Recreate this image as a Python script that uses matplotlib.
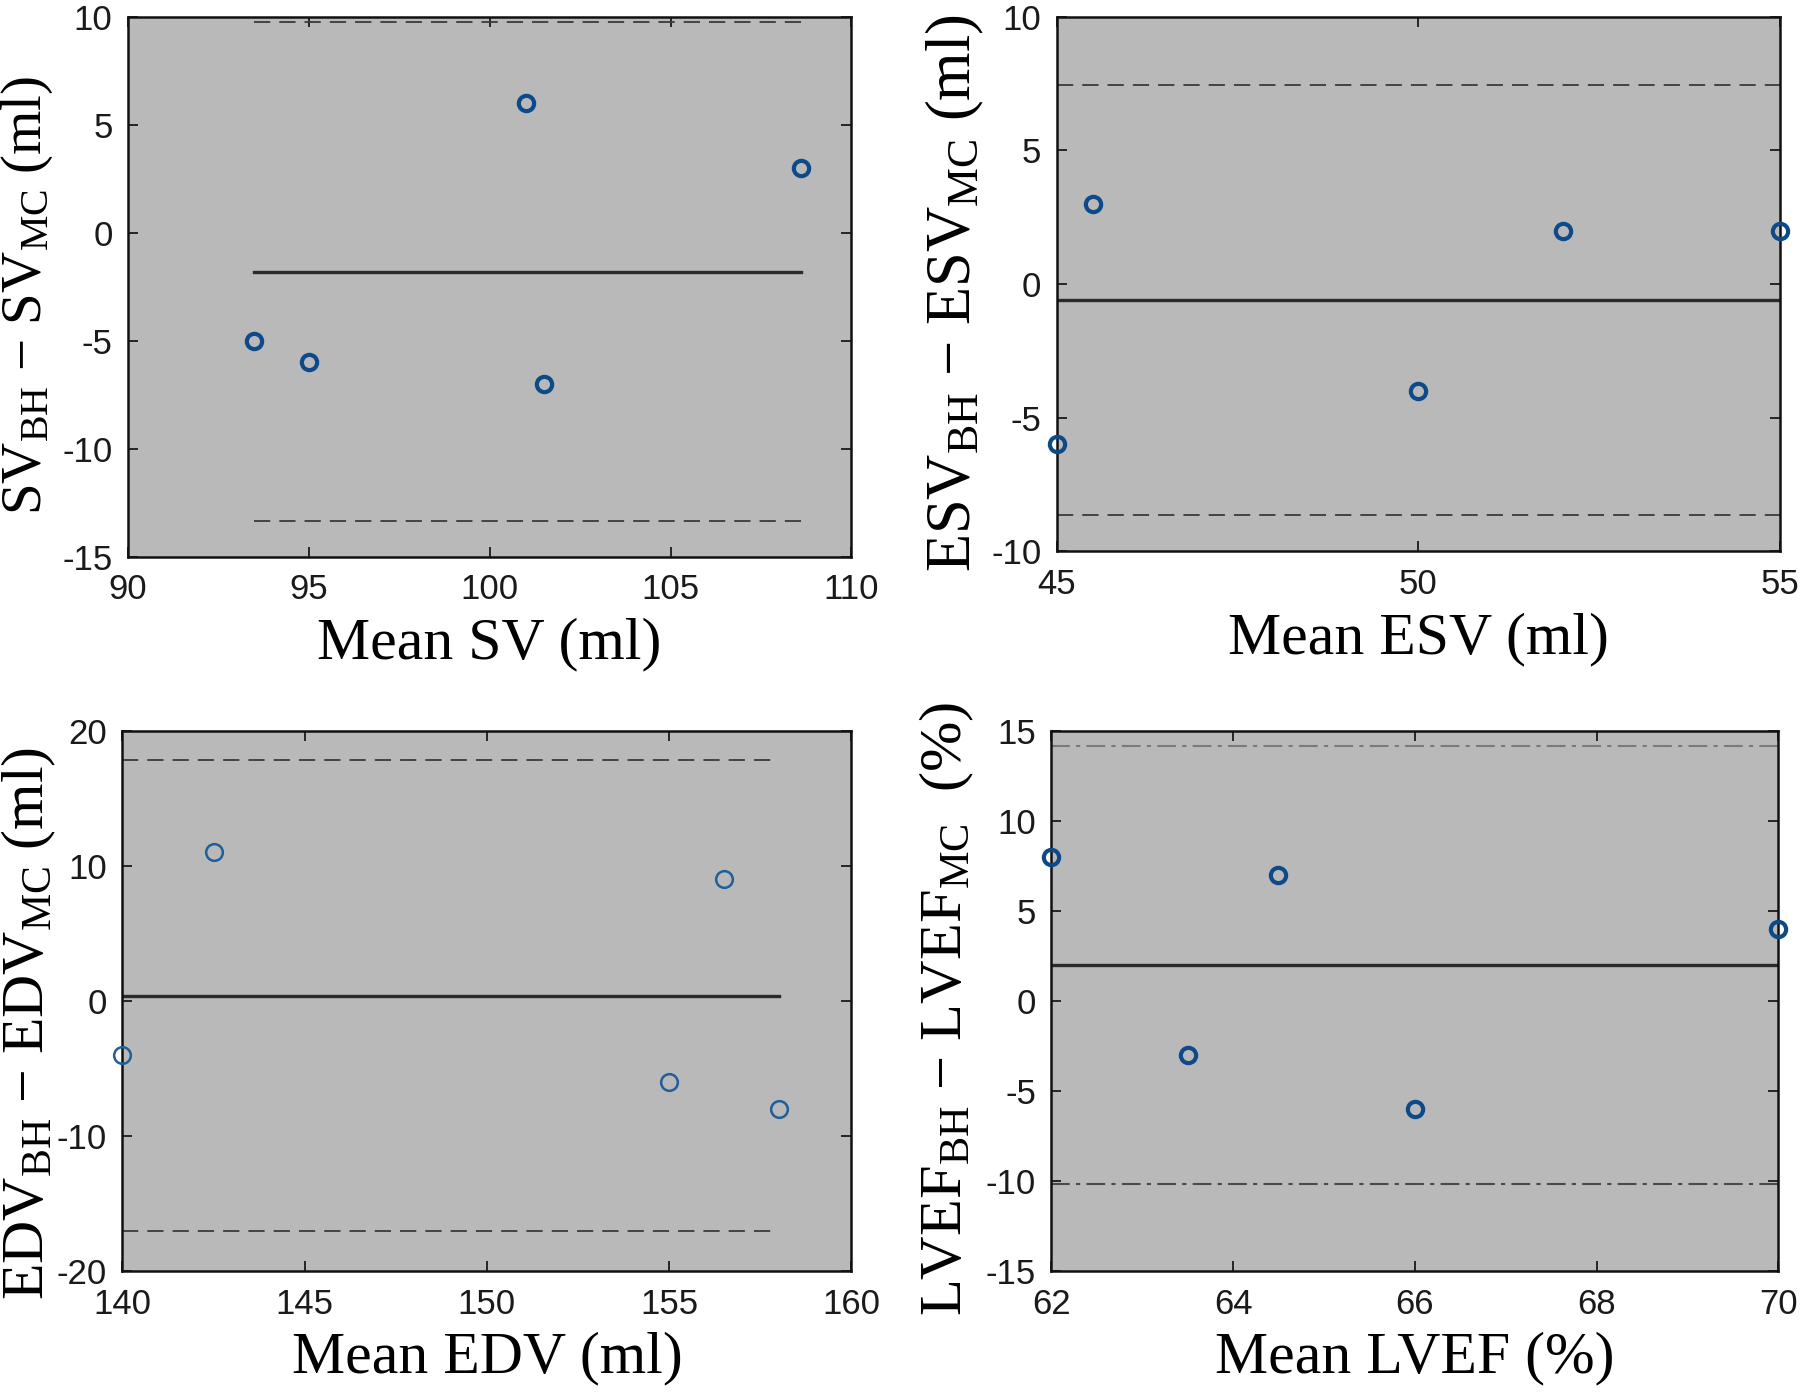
import numpy as np
import matplotlib
matplotlib.use('Agg')
import matplotlib.pyplot as plt

plt.rcParams['mathtext.fontset'] = 'custom'
plt.rcParams['mathtext.rm'] = 'Liberation Serif'
plt.rcParams['mathtext.it'] = 'Liberation Serif:italic'
plt.rcParams['font.family'] = 'Liberation Sans'
plt.rcParams['axes.unicode_minus'] = False

# Bland-Altman data
sv_mean = [93.5, 95, 101, 101.5, 108.6]
sv_diff = [-5, -6, 6, -7, 3]
esv_mean = [45, 45.5, 50, 52, 55]
esv_diff = [-6, 3, -4, 2, 2]
edv_mean = [140, 142.5, 155, 156.5, 158]
edv_diff = [-4, 11, -6, 9, -8]
lvef_mean = [62, 63.5, 64.5, 66, 70]
lvef_diff = [8, -3, 7, -6, 4]

sv_xticks, sv_yticks = [90, 95, 100, 105, 110], [-15, -10, -5, 0, 5, 10]
esv_xticks, esv_yticks = [45, 50, 55], [-10, -5, 0, 5, 10]
edv_xticks, edv_yticks = [140, 145, 150, 155, 160], [-20, -10, 0, 10, 20]
lvef_xticks, lvef_yticks = [62, 64, 66, 68, 70], [-15, -10, -5, 0, 5, 10, 15]

fig = plt.figure(figsize=(18, 13.99), dpi=100)


def panel(rect, x, y, xticks, yticks, xlabel, ylabel, ylab_size, ylab_xy,
          style='dash', mec='#0d4a8a', mew=3.0, ms=11):
    ax = fig.add_axes(rect, facecolor='#b9b9b9')
    x = np.asarray(x, float)
    y = np.asarray(y, float)
    m = y.mean()
    sd = y.std(ddof=1)
    xs = [x.min(), x.max()]
    ax.plot(xs, [m, m], color='#2a2a2a', lw=2.4)
    if style == 'dash':
        for lim in (m + 1.96 * sd, m - 1.96 * sd):
            ax.plot(xs, [lim, lim], color='#3a3a3a', lw=1.3, dashes=(9, 5))
    else:
        ax.plot(xs, [m + 1.96 * sd] * 2, color='#7a7a7a', lw=1.5,
                dashes=(9, 3, 2, 3))
        ax.plot(xs, [m - 1.96 * sd] * 2, color='#4a4a4a', lw=1.5,
                dashes=(9, 3, 2, 3))
    ax.plot(x, y, 'o', mfc='none', mec=mec, mew=mew, ms=ms, clip_on=False,
            zorder=5)
    ax.set_xlim(xticks[0], xticks[-1])
    ax.set_ylim(yticks[0], yticks[-1])
    ax.set_xticks(xticks)
    ax.set_yticks(yticks)
    ax.tick_params(direction='in', top=True, right=True, length=7, width=1.3,
                   labelsize=25, colors='#1a1a1a')
    ax.tick_params(axis='x', pad=12)
    ax.tick_params(axis='y', pad=11)
    for s in ax.spines.values():
        s.set_linewidth(1.8)
        s.set_color('#111111')
    ax.set_xlabel(xlabel, fontfamily='Liberation Serif', fontsize=43,
                  labelpad=8)
    ax.set_ylabel(ylabel, fontfamily='Liberation Serif', fontsize=ylab_size)
    ax.yaxis.set_label_coords(*ylab_xy)
    return ax


panel([0.071, 0.602, 0.402, 0.386], sv_mean, sv_diff, sv_xticks, sv_yticks,
      'Mean SV (ml)',
      r'$\mathrm{SV}_{\mathrm{BH}}$ − $\mathrm{SV}_{\mathrm{MC}}$ (ml)',
      41, (-0.101, 0.485))
panel([0.587, 0.606, 0.402, 0.382], esv_mean, esv_diff, esv_xticks, esv_yticks,
      'Mean ESV (ml)',
      r'$\mathrm{ESV}_{\mathrm{BH}}$ − $\mathrm{ESV}_{\mathrm{MC}}$ (ml)',
      45, (-0.097, 0.483))
panel([0.068, 0.0915, 0.405, 0.386], edv_mean, edv_diff, edv_xticks, edv_yticks,
      'Mean EDV (ml)',
      r'$\mathrm{EDV}_{\mathrm{BH}}$ − $\mathrm{EDV}_{\mathrm{MC}}$ (ml)',
      43, (-0.089, 0.459),
      mec='#1f5f9a', mew=1.8, ms=12)
panel([0.584, 0.0915, 0.404, 0.386], lvef_mean, lvef_diff, lvef_xticks,
      lvef_yticks, 'Mean LVEF (%)',
      r'$\mathrm{LVEF}_{\mathrm{BH}}$ − $\mathrm{LVEF}_{\mathrm{MC}}$  (%)',
      43.5, (-0.103, 0.485), style='dashdot')

plt.savefig('out.png', dpi=100)
